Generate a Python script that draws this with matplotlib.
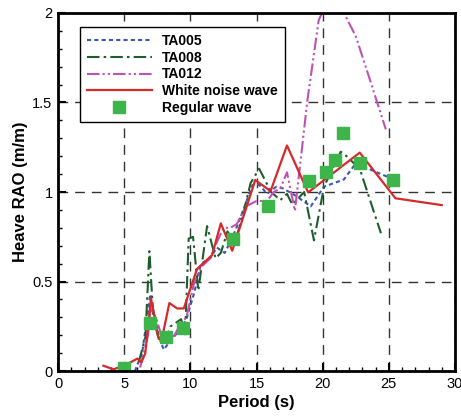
import matplotlib
matplotlib.use("Agg")
from matplotlib import pyplot as plt
from matplotlib.ticker import MultipleLocator, FormatStrFormatter

plt.rcParams['font.family'] = ['Liberation Sans', 'DejaVu Sans']

# TA005 (blue dotted)
ta005_x = [5.8, 6.35, 6.97, 7.3, 7.6, 7.98, 8.5, 9.2, 9.7, 10.3, 10.8, 11.5, 12.0, 12.6,
           13.2, 13.8, 14.7, 15.2, 15.8, 16.5, 17.0, 17.95, 19.1, 20.1, 21.6, 22.5, 24.9]
ta005_y = [0.0, 0.1, 0.43, 0.3, 0.2, 0.12, 0.17, 0.23, 0.29, 0.44, 0.6, 0.63, 0.69, 0.66,
           0.75, 0.86, 1.04, 1.04, 0.99, 1.03, 1.02, 0.98, 0.92, 1.03, 1.07, 1.16, 1.085]

# TA008 (dark green dash-dot)
ta008_x = [6.1, 6.6, 6.9, 7.2, 7.6, 8.0, 8.5, 9.3, 9.6, 9.87, 10.2, 10.6, 11.26, 11.9,
           12.3, 12.8, 13.35, 13.9, 14.55, 15.2, 16.1, 16.8, 17.3, 17.7, 18.6, 19.34,
           20.1, 21.36, 21.8, 22.8, 24.4]
ta008_y = [0.05, 0.19, 0.67, 0.3, 0.18, 0.15, 0.25, 0.29, 0.2, 0.74, 0.75, 0.45, 0.81, 0.63,
           0.66, 0.78, 0.72, 0.85, 1.05, 1.13, 1.0, 0.955, 0.99, 0.93, 1.0, 0.73,
           1.03, 1.225, 1.2, 1.13, 0.77]

# TA012 (magenta dash-dot-dot)
ta012_x = [6.2, 6.8, 7.0, 7.4, 7.8, 8.2, 8.8, 9.3, 9.7, 10.3, 10.8, 11.5, 12.0, 12.5,
           13.0, 13.5, 14.2, 15.0, 15.8, 16.3, 16.8, 17.3, 17.9, 18.84, 19.7, 20.7,
           21.6, 22.5, 23.6, 24.77]
ta012_y = [0.02, 0.2, 0.35, 0.3, 0.2, 0.17, 0.2, 0.27, 0.3, 0.5, 0.58, 0.63, 0.72, 0.8,
           0.8, 0.82, 0.92, 0.95, 0.95, 1.0, 1.02, 1.11, 0.895, 1.51, 1.96, 2.12,
           2.0, 1.87, 1.62, 1.35]

# White noise wave (red solid)
wn_x = [3.43, 4.19, 5.08, 6.0, 6.3, 6.59, 7.02, 7.6, 7.9, 8.41, 9.0, 9.5, 10.5, 11.64,
        12.3, 13.16, 13.6, 14.9, 16.06, 17.3, 18.9, 22.8, 25.5, 29.0]
wn_y = [0.03, 0.01, 0.034, 0.07, 0.05, 0.1, 0.406, 0.18, 0.2, 0.38, 0.35, 0.35, 0.57, 0.648,
        0.825, 0.672, 0.77, 1.067, 1.005, 1.26, 0.998, 1.22, 0.965, 0.927]

# Regular wave (green squares)
reg_x = [5.0, 6.97, 8.16, 9.47, 13.23, 15.83, 18.94, 20.23, 20.9, 21.5, 22.8, 25.3]
reg_y = [0.017, 0.27, 0.19, 0.24, 0.74, 0.92, 1.063, 1.11, 1.18, 1.33, 1.164, 1.067]

fig = plt.figure(figsize=(4.61, 4.17), dpi=100)
ax = fig.add_axes([0.126, 0.110, 0.861, 0.859])

ax.plot(ta005_x, ta005_y, color='#3f55b5', lw=1.5, ls=(0, (2, 1.5)), label='TA005')
ax.plot(ta008_x, ta008_y, color='#1d5e2c', lw=1.5, ls=(0, (6, 2, 1.2, 2)), label='TA008')
ax.plot(ta012_x, ta012_y, color='#c050b4', lw=1.5, ls=(0, (6, 1.5, 1, 1.5, 1, 1.5)), label='TA012')
ax.plot(wn_x, wn_y, color='#d42a2a', lw=1.6, label='White noise wave')
ax.plot(reg_x, reg_y, ls='none', marker='s', ms=8.5, color='#3db54a', label='Regular wave')

ax.set_xlim(0, 30)
ax.set_ylim(0, 2)
ax.xaxis.set_major_locator(MultipleLocator(5))
ax.xaxis.set_minor_locator(MultipleLocator(1))
ax.yaxis.set_major_locator(MultipleLocator(0.5))
ax.yaxis.set_minor_locator(MultipleLocator(0.1))
ax.yaxis.set_major_formatter(FormatStrFormatter('%g'))
ax.tick_params(which='major', direction='in', length=6, width=1.5, labelsize=10.5, pad=4)
ax.tick_params(which='minor', direction='in', length=3, width=1)
ax.grid(True, which='major', color='#333333', ls=(0, (7, 5)), lw=1)
for s in ax.spines.values():
    s.set_linewidth(2)

ax.set_xlabel('Period (s)', fontsize=12, fontweight='bold', labelpad=3)
ax.set_ylabel('Heave RAO (m/m)', fontsize=12, fontweight='bold', labelpad=3)

leg = ax.legend(loc='upper left', bbox_to_anchor=(0.055, 0.961), borderaxespad=0,
                fancybox=False, framealpha=1, edgecolor='black', handlelength=4.7,
                handletextpad=0.7, labelspacing=0.2, borderpad=0.5,
                prop={'weight': 'bold', 'size': 10})
leg.get_frame().set_linewidth(1)

fig.savefig('out.png', dpi=100)
